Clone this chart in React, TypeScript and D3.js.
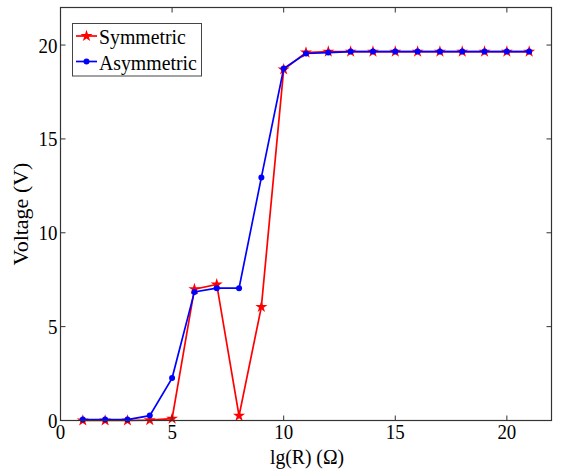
import React from "react";
import * as d3 from "d3";

const xValues = [1, 2, 3, 4, 5, 6, 7, 8, 9, 10, 11, 12, 13, 14, 15, 16, 17, 18, 19, 20, 21];
const symmetric = [0, 0, 0, 0.02, 0.1, 7.0, 7.25, 0.25, 6.05, 18.7, 19.6, 19.65, 19.65, 19.65, 19.65, 19.65, 19.65, 19.65, 19.65, 19.65, 19.65];
const asymmetric = [0.05, 0.05, 0.05, 0.26, 2.26, 6.85, 7.05, 7.05, 12.95, 18.75, 19.55, 19.6, 19.65, 19.65, 19.65, 19.65, 19.65, 19.65, 19.65, 19.65, 19.65];
const xTicks = [0, 5, 10, 15, 20];
const yTicks = [0, 5, 10, 15, 20];
const seriesNames = ["Symmetric", "Asymmetric"];
const seriesColors = ["#ff0000", "#0000ff"];

const FONT = "Liberation Serif";

function T(props: { x: number; y: number; size: number; sx?: number; anchor?: string; children: React.ReactNode }) {
  const { x, y, size, sx = 0.9, anchor = "start", children } = props;
  return (
    <text
      transform={`translate(${x},${y}) scale(${sx},1)`}
      textAnchor={anchor}
      fontSize={size}
      style={{ fontFamily: FONT }}
      fill="#000"
    >
      {children}
    </text>
  );
}

export default function App() {
  const W = 562, H = 469;
  const left = 60.5, right = 551.5, top = 7.5, bottom = 420.5;
  const x = d3.scaleLinear().domain([0, 22]).range([left, right]);
  const y = d3.scaleLinear().domain([0, 22]).range([bottom, top]);
  const line = d3.line<number>().x((_, i) => x(xValues[i])).y((d) => y(d));
  const star = d3.symbol().type(d3.symbolStar).size(45)();
  const axisColor = "#333";
  const tl = 5;
  return (
    <svg width={W} height={H} style={{ position: "absolute", left: 0, top: 0, background: "#fff" }}>
      <rect x={0} y={0} width={W} height={H} fill="#fff" />
      <path d={line(symmetric) || ""} fill="none" stroke={seriesColors[0]} strokeWidth={1.7} />
      {symmetric.map((v, i) => (
        <path key={"s" + i} d={star} transform={`translate(${x(xValues[i])},${y(v)})`} fill={seriesColors[0]} />
      ))}
      <path d={line(asymmetric) || ""} fill="none" stroke={seriesColors[1]} strokeWidth={1.7} />
      {asymmetric.map((v, i) => (
        <circle key={"a" + i} cx={x(xValues[i])} cy={y(v)} r={3} fill={seriesColors[1]} />
      ))}
      <rect x={left} y={top} width={right - left} height={bottom - top} fill="none" stroke={axisColor} strokeWidth={1.2} />
      {xTicks.map((t) => (
        <g key={"xt" + t}>
          <line x1={x(t)} x2={x(t)} y1={bottom} y2={bottom - tl} stroke={axisColor} />
          <line x1={x(t)} x2={x(t)} y1={top} y2={top + tl} stroke={axisColor} />
          <T x={x(t)} y={bottom + 18.5} size={21} anchor="middle">{t}</T>
        </g>
      ))}
      {yTicks.map((t) => (
        <g key={"yt" + t}>
          <line x1={left} x2={left + tl} y1={y(t)} y2={y(t)} stroke={axisColor} />
          <line x1={right} x2={right - tl} y1={y(t)} y2={y(t)} stroke={axisColor} />
          <T x={left - 3} y={y(t) + 7.5} size={21} anchor="end">{t}</T>
        </g>
      ))}
      <T x={307} y={463.5} size={20.5} sx={0.96} anchor="middle">lg(R) (Ω)</T>
      <text
        transform={`translate(28,${(top + bottom) / 2}) rotate(-90)`}
        textAnchor="middle"
        fontSize={22}
        style={{ fontFamily: FONT }}
        fill="#000"
      >
        Voltage (V)
      </text>
      <rect x={72.5} y={23.5} width={129} height={52.5} fill="#fff" stroke="#444" strokeWidth={1} />
      {seriesNames.map((n, i) => {
        const ly = 36 + i * 25.5;
        return (
          <g key={n}>
            <line x1={76} x2={97} y1={ly} y2={ly} stroke={seriesColors[i]} strokeWidth={1.7} />
            {i === 0 ? (
              <path d={star} transform={`translate(86.5,${ly})`} fill={seriesColors[0]} />
            ) : (
              <circle cx={86.5} cy={ly} r={3} fill={seriesColors[1]} />
            )}
            <T x={99} y={ly + 8} size={22}>{n}</T>
          </g>
        );
      })}
    </svg>
  );
}
